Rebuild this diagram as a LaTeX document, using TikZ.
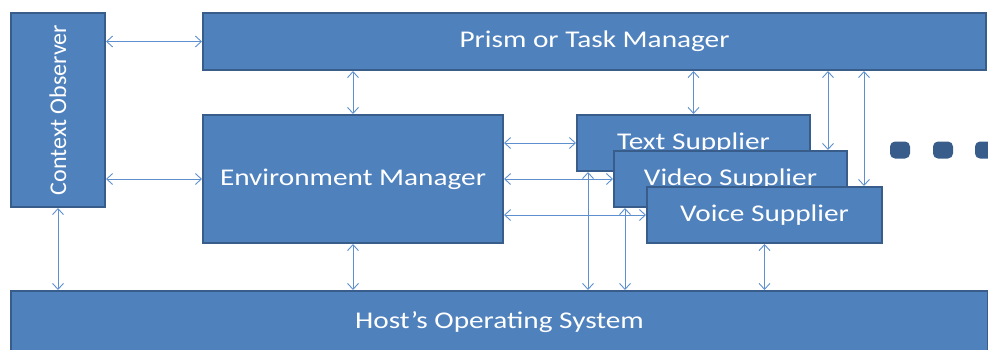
\documentclass[tikz,border=0pt]{standalone}
\usepackage{fontspec}
\setmainfont{Carlito}[FakeStretch=1.22]
\newfontfamily\plaincarlito{Carlito}
\usetikzlibrary{arrows.meta}
\definecolor{boxfill}{HTML}{4F81BD}
\definecolor{boxline}{HTML}{385D8A}
\definecolor{arrcol}{HTML}{5E8FCF}
\definecolor{dotcol}{HTML}{385D8A}
\tikzset{
  box/.style={draw=boxline, fill=boxfill, line width=2pt, inner sep=0pt,
    text=white, font=\fontsize{24}{28}\selectfont},
  arr/.style={draw=arrcol, line width=0.9pt,
    {Straight Barb[length=6pt,width=11pt]}-{Straight Barb[length=6pt,width=11pt]}},
  dotbox/.style={fill=dotcol, rounded corners=5pt, minimum width=20pt, minimum height=17pt, inner sep=0pt}
}
\begin{document}
\begin{tikzpicture}[x=1pt,y=-1pt]
\useasboundingbox (0,0) rectangle (988,349);
\node[box, minimum width=94pt, minimum height=194pt] (ctx) at (58,110) {};
\node[white, rotate=90, font=\plaincarlito\fontsize{24}{28}\selectfont] (ctxlabel) at (ctx.center) {Context Observer};
\node[box, minimum width=783pt, minimum height=57pt] (prism) at (594.5,41.5) {Prism or Task Manager};
\node[box, minimum width=300pt, minimum height=128pt] (env) at (353,179) {Environment Manager};
\node[box, minimum width=233pt, minimum height=56pt] (text) at (693.5,143) {Text Supplier};
\node[box, minimum width=233pt, minimum height=56pt] (video) at (730.5,179) {Video Supplier};
\node[box, minimum width=235pt, minimum height=56pt] (voice) at (764.5,215) {Voice Supplier};
\node[box, minimum width=977pt, minimum height=62pt] (host) at (499.5,322) {Host’s Operating System};
\node[dotbox] (d1) at (900,150) {};
\node[dotbox] (d2) at (943,150) {};
\node[dotbox] (d3) at (985,150) {};
% connectors
\draw[arr] (ctx.east |- prism.west) -- (prism.west);
\draw[arr] (ctx.east |- env.west) -- (env.west);
\draw[arr] (ctx.south) -- (ctx.south |- host.north);
\draw[arr] (prism.south -| env.north) -- (env.north);
\draw[arr] (prism.south -| text.north) -- (text.north);
\draw[arr] (prism.south -| 828,0) -- (video.north -| 828,0);
\draw[arr] (prism.south -| 864,0) -- (voice.north -| 864,0);
\draw[arr] (env.east |- text.west) -- (text.west);
\draw[arr] (env.east |- video.west) -- (video.west);
\draw[arr] (env.east |- voice.west) -- (voice.west);
\draw[arr] (env.south) -- (env.south |- host.north);
\draw[arr] (text.south -| 588,0) -- (host.north -| 588,0);
\draw[arr] (video.south -| 625,0) -- (host.north -| 625,0);
\draw[arr] (voice.south) -- (voice.south |- host.north);
\end{tikzpicture}
\end{document}
